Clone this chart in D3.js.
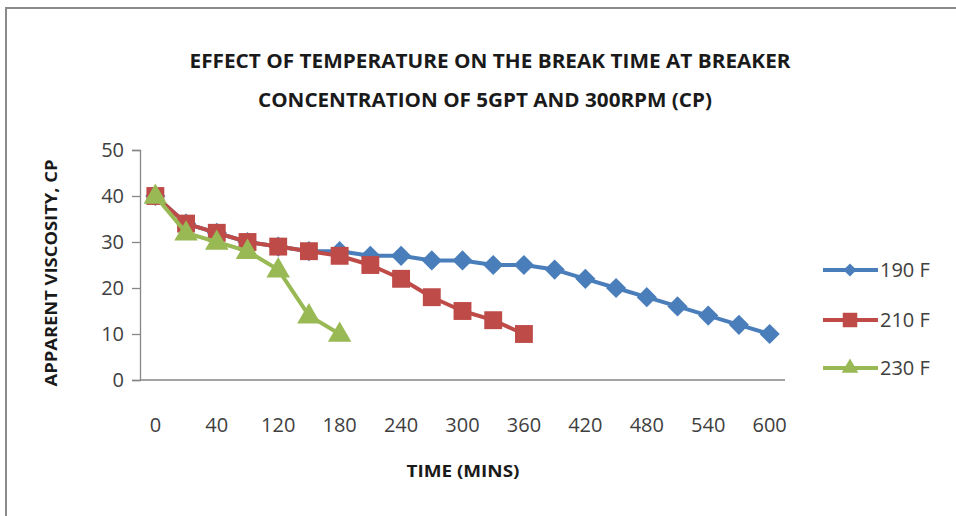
<!DOCTYPE html>
<html>
<head>
<meta charset="utf-8">
<script src="https://cdn.jsdelivr.net/npm/d3@7"></script>
<style>
  html, body { margin: 0; padding: 0; background: #fff; }
  svg { display: block; font-family: "Open Sans", Calibri, sans-serif; }
</style>
</head>
<body>
<div id="chart"></div>
<script>
// Data (time in minutes; categories 1 and 3 have hidden labels)
const categories = [0, 20, 40, 80, 120, 150, 180, 210, 240, 270, 300, 330, 360, 390, 420, 450, 480, 510, 540, 570, 600];
const yTicks = [0, 10, 20, 30, 40, 50];
const seriesNames = ["190 F", "210 F", "230 F"];
const values190 = [40, 34, 32, 30, 29, 28, 28, 27, 27, 26, 26, 25, 25, 24, 22, 20, 18, 16, 14, 12, 10];
const values210 = [40, 34, 32, 30, 29, 28, 27, 25, 22, 18, 15, 13, 10];
const values230 = [40, 32, 30, 28, 24, 14, 10];

const colors = ["#4a7ebb", "#be4b48", "#98b954"];
const symbols = [d3.symbolDiamond2, d3.symbolSquare, d3.symbolTriangle];

// Layout
const width = 956;
const height = 516;
const plot = { left: 140, right: 785, top: 150, bottom: 380 };

const svg = d3
  .select("#chart")
  .append("svg")
  .attr("width", width)
  .attr("height", height);

// Outer frame (only top and left edges are visible in the picture)
svg
  .append("path")
  .attr("d", `M6,${height} L6,8 L${width},8`)
  .attr("fill", "none")
  .attr("stroke", "#8a8a8a")
  .attr("stroke-width", 2);

// Stretched text helper: the picture's text is wider than the installed fonts
const fitText = (sel, len) =>
  sel.attr("textLength", len).attr("lengthAdjust", "spacingAndGlyphs");

// Title
const titleLines = [
  { text: "EFFECT OF TEMPERATURE ON THE BREAK TIME AT BREAKER", x: 490, y: 68, len: 601 },
  { text: "CONCENTRATION OF 5GPT AND 300RPM (CP)", x: 485, y: 107, len: 454 },
];
titleLines.forEach((t) => {
  svg
    .append("text")
    .attr("x", t.x)
    .attr("y", t.y)
    .attr("text-anchor", "middle")
    .attr("font-weight", "bold")
    .attr("font-size", 19)
    .attr("fill", "#1a1a1a")
    .text(t.text)
    .call(fitText, t.len);
});

// Scales
const x = d3.scaleBand().domain(categories).range([plot.left, plot.right]).padding(0);
const cx = (c) => x(c) + x.bandwidth() / 2;
const y = d3.scaleLinear().domain([0, 50]).range([plot.bottom, plot.top]);

// Y axis
const yAxis = svg
  .append("g")
  .attr("transform", `translate(${plot.left},0)`)
  .call(d3.axisLeft(y).tickValues(yTicks).tickSize(8).tickPadding(8));
yAxis.select(".domain").attr("stroke", "#868686").attr("stroke-width", 1.3);
yAxis.selectAll(".tick line").attr("stroke", "#868686").attr("stroke-width", 1.3);
yAxis
  .selectAll(".tick text")
  .attr("font-size", 20)
  .attr("fill", "#404040")
  .attr("font-family", "Open Sans, sans-serif");

// X axis
svg
  .append("line")
  .attr("x1", plot.left)
  .attr("x2", plot.right)
  .attr("y1", plot.bottom)
  .attr("y2", plot.bottom)
  .attr("stroke", "#868686")
  .attr("stroke-width", 1.3);

svg
  .append("g")
  .selectAll("text")
  .data(categories.filter((c, i) => i % 2 === 0))
  .enter()
  .append("text")
  .attr("x", (d) => cx(d))
  .attr("y", 432)
  .attr("text-anchor", "middle")
  .attr("font-size", 20)
  .attr("fill", "#404040")
  .text((d) => d);

// Axis titles
svg
  .append("text")
  .attr("x", 463)
  .attr("y", 477)
  .attr("text-anchor", "middle")
  .attr("font-weight", "bold")
  .attr("font-size", 16)
  .attr("fill", "#1a1a1a")
  .text("TIME (MINS)")
  .call(fitText, 113);

svg
  .append("text")
  .attr("transform", "translate(57,273) rotate(-90)")
  .attr("text-anchor", "middle")
  .attr("font-weight", "bold")
  .attr("font-size", 16)
  .attr("fill", "#1a1a1a")
  .text("APPARENT VISCOSITY, CP")
  .call(fitText, 227);

// Series
const seriesValues = [values190, values210, values230];
const markerSizes = [260, 320, 240];

const line = d3
  .line()
  .x((d) => cx(categories[d.i]))
  .y((d) => y(d.v));

seriesValues.forEach((vals, s) => {
  const pts = vals.map((v, i) => ({ v, i }));
  const g = svg.append("g");
  g.append("path")
    .attr("d", line(pts))
    .attr("fill", "none")
    .attr("stroke", colors[s])
    .attr("stroke-width", 4)
    .attr("stroke-linejoin", "round");
  g.selectAll("path.marker")
    .data(pts)
    .enter()
    .append("path")
    .attr("class", "marker")
    .attr("d", d3.symbol().type(symbols[s]).size(markerSizes[s]))
    .attr("transform", (d) => `translate(${cx(categories[d.i])},${y(d.v) + (s === 2 ? 1 : 0)})`)
    .attr("fill", colors[s]);
});

// Legend
const legendY = [270, 320, 368];
const legendSizes = [110, 210, 120];
seriesNames.forEach((name, s) => {
  const g = svg.append("g").attr("transform", `translate(0,${legendY[s]})`);
  g.append("line")
    .attr("x1", 823)
    .attr("x2", 878)
    .attr("stroke", colors[s])
    .attr("stroke-width", 4);
  g.append("path")
    .attr("d", d3.symbol().type(symbols[s]).size(legendSizes[s]))
    .attr("transform", "translate(850,0)")
    .attr("fill", colors[s]);
  g.append("text")
    .attr("x", 880)
    .attr("y", 7)
    .attr("font-size", 20)
    .attr("fill", "#404040")
    .text(name);
});
</script>
</body>
</html>
